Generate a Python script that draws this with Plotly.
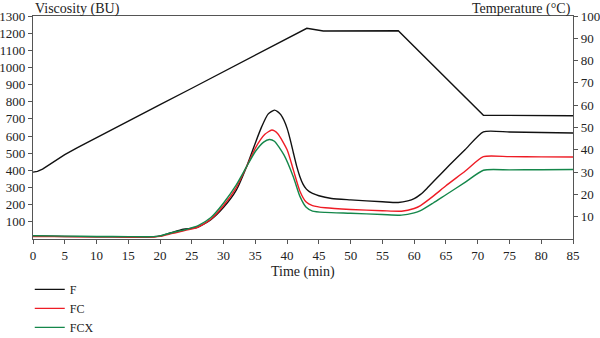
import plotly.graph_objects as go

# Viscosity profiles (Brabender units) against time (min)
time_f = [0, 5, 10, 15, 19, 20, 21.6, 23.7, 25.8, 27.9, 30, 32, 33.6, 35, 36, 37, 38, 38.5, 39, 39.5, 40,
          40.5, 41, 41.5, 42, 42.5, 43, 43.5, 44, 45, 47, 50, 55, 57.5, 59, 60, 61, 62, 65, 68, 70.9, 75, 80, 85]
visc_f = [18, 15, 13, 12, 13, 18, 35, 57, 67, 110, 185, 285, 420, 560, 655, 728, 751, 743, 725, 692, 645,
          578, 500, 425, 365, 320, 292, 276, 266, 252, 236, 228, 217, 213, 222, 235, 260, 295, 410, 520, 625,
          624, 621, 618]

time_fc = [0, 5, 10, 15, 19, 20, 22, 24, 26, 28, 30, 32, 33.6, 35, 36.5, 37.6, 38.5, 40, 41, 42, 43,
           44, 46, 50, 55, 58, 60, 61, 63, 65, 68, 70.9, 75, 80, 85]
visc_fc = [15, 14, 13, 12, 12, 15, 33, 50, 70, 115, 195, 300, 420, 530, 610, 635, 615, 520, 400, 280, 215,
           195, 182, 172, 165, 162, 178, 195, 250, 310, 395, 480, 480, 479, 478]

time_fcx = [0, 5, 10, 15, 19, 20, 22, 24, 26, 28, 30, 32, 33.6, 35, 36.3, 37.2, 38, 39.5, 41, 42, 43,
            44, 46, 50, 55, 58, 60, 61, 63, 65, 68, 70.9, 75, 80, 85]
visc_fcx = [19, 17, 15, 14, 14, 18, 38, 55, 78, 125, 210, 315, 420, 510, 565, 580, 570, 490, 360, 250, 185,
            163, 155, 150, 143, 139, 152, 165, 210, 258, 330, 401, 403, 404, 405]

# Temperature program (°C)
time_t = [0, 0.7, 1.5, 2.5, 3.5, 5, 7, 10, 15, 20, 25, 30, 35, 40, 43.1, 45.7, 50, 57.5, 70.9, 75, 80, 85]
temp_t = [30, 30.3, 31.3, 33.2, 35.1, 37.8, 41, 45.5, 53, 60.3, 67.6, 75, 82.5, 90, 94.5, 93.3, 93.4, 93.4,
          55.5, 55.5, 55.4, 55.3]

visc_ticks = list(range(100, 1301, 100))
temp_ticks = list(range(10, 101, 10))
time_ticks = list(range(0, 86, 5))

FONT = "Liberation Serif"
AXIS_COLOR = "#555555"
TEXT_COLOR = "#222222"

fig = go.Figure()
fig.add_trace(go.Scatter(x=time_f, y=visc_f, name="F", mode="lines",
                         line=dict(color="#111111", width=1.4, shape="spline", smoothing=0.6)))
fig.add_trace(go.Scatter(x=time_fc, y=visc_fc, name="FC", mode="lines",
                         line=dict(color="#ee1c25", width=1.4, shape="spline", smoothing=0.6)))
fig.add_trace(go.Scatter(x=time_fcx, y=visc_fcx, name="FCX", mode="lines",
                         line=dict(color="#14874a", width=1.4, shape="spline", smoothing=0.6)))
fig.add_trace(go.Scatter(x=time_t, y=temp_t, name="Temperature", mode="lines", yaxis="y2",
                         showlegend=False,
                         line=dict(color="#111111", width=1.4, shape="linear")))

axis_common = dict(showline=True, linecolor=AXIS_COLOR, linewidth=1.2, ticks="outside",
                   tickcolor=AXIS_COLOR, ticklen=4, tickwidth=1, showgrid=False, zeroline=False,
                   automargin=False, tickfont=dict(family=FONT, size=13, color=TEXT_COLOR))

fig.update_layout(
    width=600, height=338,
    margin=dict(l=33, r=27, t=16, b=99, autoexpand=False),
    paper_bgcolor="white", plot_bgcolor="white",
    font=dict(family=FONT, size=13, color=TEXT_COLOR),
    xaxis=dict(range=[0, 85], tickvals=time_ticks, mirror=True, **axis_common),
    yaxis=dict(range=[0, 1300], tickvals=visc_ticks, **axis_common),
    yaxis2=dict(range=[0, 100], tickvals=temp_ticks, overlaying="y", side="right", **axis_common),
    legend=dict(x=-0.006, y=-0.161, xanchor="left", yanchor="top", bgcolor="rgba(0,0,0,0)",
                font=dict(family=FONT, size=12, color=TEXT_COLOR), tracegroupgap=0),
    annotations=[
        dict(text="Viscosity (BU)", xref="paper", yref="paper", x=0, y=1, xanchor="left",
             yanchor="bottom", showarrow=False, font=dict(family=FONT, size=14), yshift=-3),
        dict(text="Temperature (°C)", xref="paper", yref="paper", x=1, y=1, xanchor="right",
             yanchor="bottom", showarrow=False, font=dict(family=FONT, size=14), yshift=-3),
        dict(text="Time (min)", xref="paper", yref="paper", x=0.5, y=0, xanchor="center",
             yanchor="middle", showarrow=False, font=dict(family=FONT, size=14), yshift=-33),
    ],
)

fig.write_html("out.html")
